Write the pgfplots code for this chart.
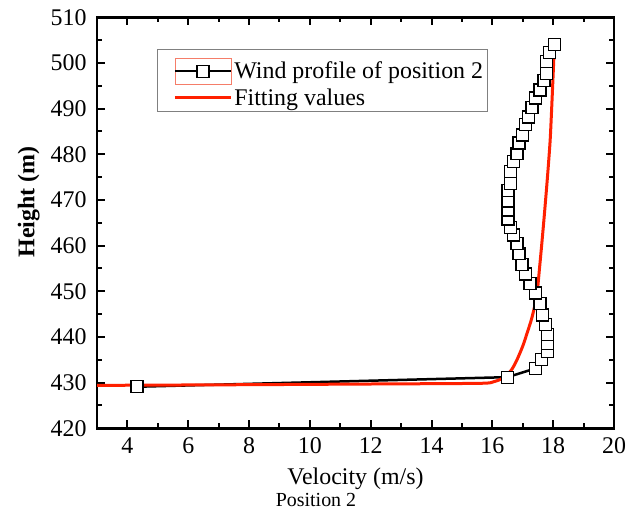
\documentclass[border=0pt]{standalone}
\usepackage{pgfplots}
\pgfplotsset{compat=1.18}
\usepackage{fontspec}
\setmainfont{Liberation Serif}
\definecolor{fitred}{RGB}{255,32,0}
\definecolor{selred}{RGB}{245,125,105}

% legend samples: framed line-with-mark, and a plain line
\pgfplotsset{
  framed mark legend/.style={
    legend image code/.code={
      \path (-14bp,18bp);
      \draw[selred, line width=0.6bp] (0bp,-13bp) rectangle (56bp,13bp);
      \draw[mark repeat=2, mark phase=2, ##1]
        plot coordinates {(0bp,0bp) (28bp,0bp) (56bp,0bp)};
    }},
  long line legend/.style={
    legend image code/.code={
      \path (-14bp,0bp);
      \draw[##1] (0bp,0bp) -- (56bp,0bp);
    }},
}

\begin{document}
\begin{tikzpicture}
\path[use as bounding box] (0bp,0bp) rectangle (636bp,511bp);
\begin{axis}[
  at={(97bp,82.7bp)}, anchor=south west,
  scale only axis, width=517bp, height=411bp,
  xmin=3, xmax=20, ymin=420, ymax=510,
  xtick={4,6,...,20}, ytick={420,430,...,510},
  minor x tick num=1, minor y tick num=1,
  xtick pos=both, ytick pos=both,
  xticklabel pos=lower, yticklabel pos=left,
  tick align=inside,
  major tick length=8bp, minor tick length=5bp,
  every tick/.style={black, line width=2bp},
  axis line style={line width=2.6bp},
  /pgf/number format/assume math mode=true,
  tick label style={font=\fontsize{24}{28}\selectfont},
  xticklabel style={yshift=-6bp},
  yticklabel style={xshift=-7bp},
  label style={font=\fontsize{24}{28}\selectfont},
  xlabel={Velocity (m/s)},
  xlabel style={yshift=-7bp},
  ylabel={\bfseries Height (m)},
  ylabel style={at={(ticklabel cs:0.551)}},
  ylabel shift=4bp,
  legend style={at={(0.116,0.924)}, anchor=north west,
    draw=gray, line width=0.8bp, fill=white,
    font=\fontsize{24}{28}\selectfont,
    inner xsep=2bp, inner ysep=3bp, row sep=2bp},
  legend cell align=left,
]
% measured wind profile
\addplot[black, line width=2.5bp, mark=square*, mark size=6bp,
  mark options={fill=white, draw=black, line width=1.3bp},
  framed mark legend] coordinates {
(4.32,429.1) (16.50,431.2) (17.41,433.1) (17.62,435.1) (17.81,436.8)
(17.81,438.6) (17.81,440.6) (17.74,442.8) (17.66,444.8) (17.57,447.4)
(17.41,449.6) (17.24,451.7) (17.08,453.8) (16.97,455.8) (16.88,458.3)
(16.81,460.5) (16.70,462.3) (16.59,464.0) (16.51,465.8) (16.51,467.8)
(16.51,469.8) (16.51,472.0) (16.59,473.6) (16.59,476.2) (16.70,478.4)
(16.81,480.2) (16.88,482.5) (16.99,484.2) (17.10,486.6) (17.19,488.2)
(17.30,490.3) (17.41,492.3) (17.57,494.1) (17.70,496.1) (17.79,497.7)
(17.79,500.3) (17.88,502.3) (18.04,504.1)
};
\addlegendentry{Wind profile of position 2}
% fitted profile
\addplot[fitred, line width=3bp, smooth, tension=0.4,
  long line legend] coordinates {
(3,429.4) (8,429.55) (12,429.7) (15.6,429.85) (16.04,430.2) (16.3,430.8)
(16.48,431.7) (16.65,433.0) (16.81,435.0) (17.0,438.0) (17.14,440.8)
(17.3,444.2) (17.46,449.0) (17.55,455.0) (17.62,460.0) (17.70,466.0)
(17.80,474.0) (17.90,483.0) (17.97,493.0) (18.04,504.0)
};
\addlegendentry{Fitting values}
\end{axis}
\node[font=\fontsize{20}{24}\selectfont] at (316bp,11bp) {Position 2};
\end{tikzpicture}
\end{document}
